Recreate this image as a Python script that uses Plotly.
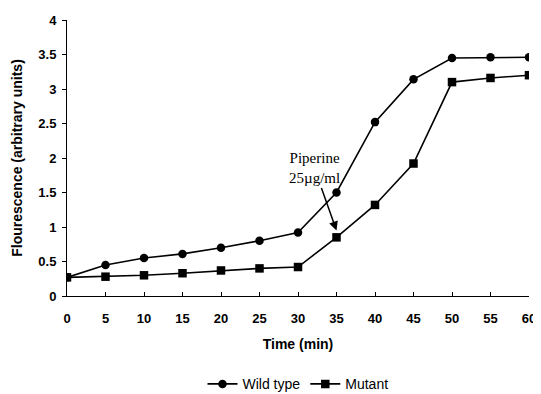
import plotly.graph_objects as go

time = [0, 5, 10, 15, 20, 25, 30, 35, 40, 45, 50, 55, 60]
wild_type = [0.27, 0.45, 0.55, 0.61, 0.70, 0.80, 0.92, 1.50, 2.52, 3.14, 3.45, 3.46, 3.46]
mutant = [0.27, 0.28, 0.30, 0.33, 0.37, 0.40, 0.42, 0.85, 1.32, 1.92, 3.10, 3.16, 3.20]
x_ticks = list(range(0, 61, 5))
y_ticks = [0, 0.5, 1, 1.5, 2, 2.5, 3, 3.5, 4]

fig = go.Figure()
fig.add_trace(go.Scatter(x=time, y=wild_type, mode="lines+markers", name="Wild type",
                         line=dict(color="black", width=1.6),
                         marker=dict(symbol="circle", size=8.5, color="black")))
fig.add_trace(go.Scatter(x=time, y=mutant, mode="lines+markers", name="Mutant",
                         line=dict(color="black", width=1.6),
                         marker=dict(symbol="square", size=8.5, color="black")))

fig.add_annotation(x=35, y=0.95, xref="x", yref="y", text="Piperine<br>25µg/ml",
                   showarrow=True, arrowhead=2, arrowsize=1.2, arrowwidth=1.5, arrowcolor="black",
                   ax=-22, ay=-62, axref="pixel", ayref="pixel",
                   font=dict(family="Liberation Serif, Times New Roman, serif", size=15, color="black"))

axis_font = dict(family="Liberation Sans, Arial, sans-serif", size=13, color="black")
# the page body adds an 8px offset; figure size compensates for it
fig.update_layout(
    width=533, height=386,
    margin=dict(l=59, r=12, t=12, b=98, autoexpand=False),
    plot_bgcolor="white", paper_bgcolor="white",
    font=dict(family="Liberation Sans, Arial, sans-serif", color="black"),
    xaxis=dict(range=[0, 60], tickvals=x_ticks, ticktext=[f"<b>{v}</b>" for v in x_ticks],
               showgrid=False, zeroline=False, showline=True, linecolor="black", linewidth=1,
               ticks="inside", ticklen=4, tickcolor="black", tickfont=axis_font, automargin=True,
               ticklabelstandoff=10,
               title=dict(text="<b>Time (min)</b>", font=dict(size=14), standoff=14)),
    yaxis=dict(range=[0, 4], tickvals=y_ticks, ticktext=[f"<b>{v:g}</b>" for v in y_ticks],
               showgrid=False, zeroline=False, showline=True, linecolor="black", linewidth=1,
               ticks="outside", ticklen=4, tickcolor="black", tickfont=axis_font, automargin=True,
               ticklabelstandoff=3,
               title=dict(text="<b>Flourescence (arbitrary units)</b>", font=dict(size=14), standoff=12)),
    legend=dict(orientation="h", x=0.5, xanchor="center", y=-0.32, yanchor="middle",
                font=dict(size=14, color="black")),
    showlegend=True,
)
fig.write_html("out.html")
